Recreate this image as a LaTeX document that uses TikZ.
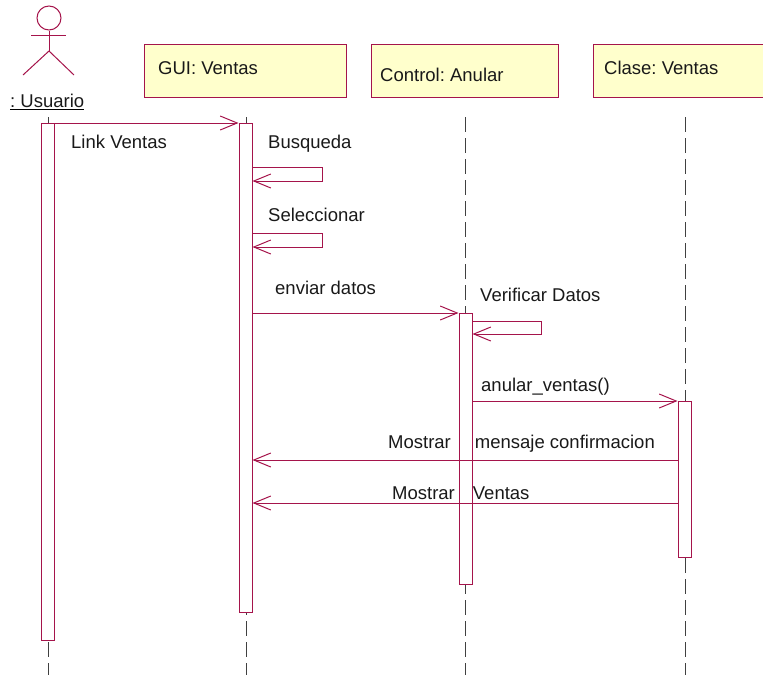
\documentclass[tikz,border=0pt]{standalone}
\usepackage{fontspec}
\setmainfont{Liberation Sans}
\usetikzlibrary{arrows.meta}
\frenchspacing
\definecolor{umlred}{RGB}{165,20,75}
\definecolor{umlyellow}{RGB}{255,255,204}
\tikzset{
  obj/.style={draw=umlred, fill=umlyellow, line width=1pt, minimum height=53pt, inner sep=0pt, anchor=north west},
  act/.style={draw=umlred, fill=white, line width=1pt, minimum width=13pt, inner sep=0pt, anchor=north},
  life/.style={draw=black!75, line width=1pt, dash pattern=on 15pt off 6pt},
  msg/.style={draw=umlred, line width=1pt, -{Straight Barb[length=17pt,width=14pt]}},
  lbl/.style={inner sep=0pt, anchor=base west, text=black!90, font=\fontsize{18.5}{22}\selectfont},
}
\begin{document}
\begin{tikzpicture}[x=1pt, y=-1pt]
  \useasboundingbox (0,0) rectangle (763,675);

  % actor
  \node[circle, draw=umlred, line width=1pt, minimum size=24pt, inner sep=0pt] (head) at (49,18) {};
  \coordinate (hip) at (49,51);
  \draw[umlred, line width=1pt] (31,35) -- (66,35);
  \draw[umlred, line width=1pt] (head.south) -- (hip);
  \draw[umlred, line width=1pt] (23,75) -- (hip) -- (74,75);
  \node[lbl] (usr) at (10,107) {: Usuario};
  \draw[line width=1.5pt] ([yshift=-2.5pt]usr.base west) -- ([yshift=-2.5pt]usr.base east);

  % objects
  \node[obj, minimum width=202pt] (gui) at (144,44) {};
  \node[obj, minimum width=187pt] (ctl) at (371,44) {};
  \node[obj, minimum width=180pt] (cls) at (593,44) {};
  \node[lbl] (guit) at (158,74) {GUI: Ventas};
  \node[lbl] (ctlt) at (380,81.5) {Control: Anular};
  \node[lbl] (clst) at (604,74) {Clase: Ventas};

  % lifelines
  \coordinate (ulife) at (48,117);
  \coordinate (glife) at (246,117);
  \coordinate (clife) at (465,117);
  \coordinate (klife) at (685,117);
  \draw[life] (ulife) -- ++(0,558);
  \draw[life] (glife) -- ++(0,558);
  \draw[life] (clife) -- ++(0,558);
  \draw[life] (klife) -- ++(0,558);

  % activations
  \node[act, minimum height=517pt] (uact) at (47.5,123) {};
  \node[act, minimum height=489pt] (gact) at (245.5,123) {};
  \node[act, minimum height=271pt] (cact) at (465.5,313) {};
  \node[act, minimum height=156pt] (kact) at (684.5,401) {};

  % messages
  \draw[msg] (uact.north east) -- (gact.north west);
  \node[lbl] (m1) at (71,148) {Link Ventas};

  \draw[msg] ([yshift=-44pt]gact.north east) -- ++(70,0) -- ++(0,14) -- ([yshift=-58pt]gact.north east);
  \node[lbl] (m2) at (268,148) {Busqueda};

  \draw[msg] ([yshift=-110pt]gact.north east) -- ++(70,0) -- ++(0,14) -- ([yshift=-124pt]gact.north east);
  \node[lbl] (m3) at (268,221) {Seleccionar};

  \draw[msg] (gact.east |- cact.north) -- (cact.north west);
  \node[lbl] (m4) at (275,294) {enviar datos};

  \draw[msg] ([yshift=-8pt]cact.north east) -- ++(69,0) -- ++(0,13) -- ([yshift=-21pt]cact.north east);
  \node[lbl] (m5) at (480,301.5) {Verificar Datos};

  \draw[msg] (cact.east |- kact.north) -- (kact.north west);
  \node[lbl] (m6) at (481,391) {anular\_ventas()};

  \coordinate (r1) at ([yshift=-59pt]kact.north west);
  \draw[msg] (r1) -- (gact.east |- r1);
  \node[lbl] (m7) at (388,448) {Mostrar\hspace{24pt}mensaje confirmacion};

  \coordinate (r2) at ([yshift=-102pt]kact.north west);
  \draw[msg] (r2) -- (gact.east |- r2);
  \node[lbl] (m8) at (392,499) {Mostrar\hspace{18pt}Ventas};
\end{tikzpicture}
\end{document}
